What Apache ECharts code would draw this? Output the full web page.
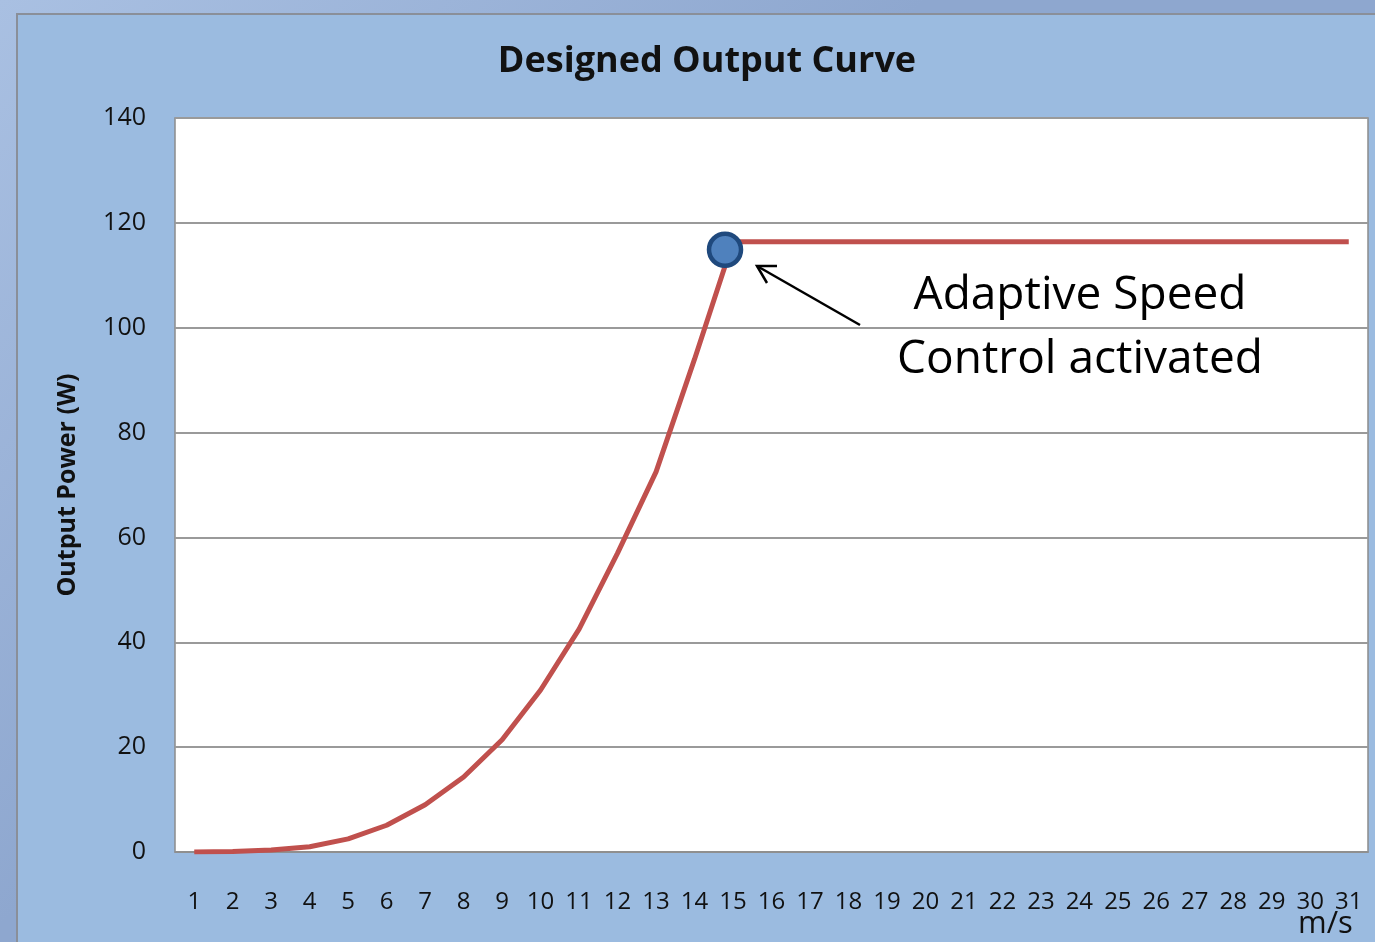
<!DOCTYPE html>
<html>
<head>
<meta charset="utf-8">
<script src="https://cdn.jsdelivr.net/npm/echarts@6/dist/echarts.min.js"></script>
<style>
html, body { margin: 0; padding: 0; }
body { width: 1375px; height: 942px; background: linear-gradient(135deg, #a9c0e2 0%, #8ea7cf 40%, #8ea7cf 100%); position: relative; overflow: hidden; }
#frame { position: absolute; left: 16px; top: 13px; width: 1400px; height: 1000px; background: #9bbbe0; border-left: 2px solid #8a8f99; border-top: 2px solid #8a8f99; }
#main { position: absolute; left: 0; top: 0; width: 1375px; height: 942px; }
</style>
</head>
<body>
<div id="frame"></div>
<div id="main"></div>
<script>
var speeds = [];
for (var s = 1; s <= 31; s++) speeds.push(String(s));
var power = [0, 0.1, 0.4, 1.0, 2.5, 5.1, 9.0, 14.3, 21.4, 30.9, 42.5, 57.0, 72.5, 94.0, 116.4,
	116.4, 116.4, 116.4, 116.4, 116.4, 116.4, 116.4, 116.4, 116.4, 116.4, 116.4, 116.4, 116.4, 116.4, 116.4, 116.4];
var yTicks = [0, 20, 40, 60, 80, 100, 120, 140];
var markSpeed = '15';
var markPower = 116.4;

var font = '"Open Sans", "Noto Sans", sans-serif';
var myChart = echarts.init(document.getElementById('main'));
var option = {
	animation: false,
	backgroundColor: 'transparent',
	title: {
		text: 'Designed Output Curve',
		left: 702,
		top: 39,
		textAlign: 'center',
		textStyle: { fontFamily: font, fontSize: 36, fontWeight: 'bold', color: '#111' }
	},
	grid: {
		left: 175, top: 118, right: 7, bottom: 90,
		show: true, backgroundColor: '#fff', borderColor: '#8c8c8c', borderWidth: 1.5
	},
	xAxis: {
		type: 'category',
		data: speeds,
		boundaryGap: true,
		axisLine: { lineStyle: { color: '#8c8c8c', width: 1.5 } },
		axisTick: { show: false },
		axisLabel: { fontFamily: font, fontSize: 24, color: '#111', margin: 38, interval: 0 }
	},
	yAxis: {
		type: 'value',
		min: yTicks[0],
		max: yTicks[yTicks.length - 1],
		interval: 20,
		name: 'Output Power (W)',
		nameLocation: 'middle',
		nameGap: 95,
		nameTextStyle: { fontFamily: font, fontSize: 25, fontWeight: 'bold', color: '#111' },
		axisLine: { show: false },
		axisTick: { show: false },
		axisLabel: { fontFamily: font, fontSize: 25, color: '#111', margin: 29 },
		splitLine: { lineStyle: { color: '#9a9a9a', width: 2 } }
	},
	graphic: [
		{
			type: 'text', x: 1080, y: 264,
			style: {
				text: 'Adaptive Speed\nControl activated',
				font: '46px ' + font, fill: '#000', align: 'center', verticalAlign: 'top', lineHeight: 64
			},
			z: 10
		},
		{
			type: 'line', shape: { x1: 860, y1: 325, x2: 757, y2: 266 },
			style: { stroke: '#000', lineWidth: 2.5 }, z: 10
		},
		{
			type: 'polyline', shape: { points: [[777, 266], [757, 266], [767, 283]] },
			style: { stroke: '#000', lineWidth: 2.5, fill: null }, z: 10
		},
		{
			type: 'text', x: 1298, y: 909,
			style: { text: 'm/s', font: '31px ' + font, fill: '#111' }
		}
	],
	series: [{
		name: 'Output Power',
		type: 'line',
		data: power,
		symbol: 'none',
		lineStyle: { color: '#c0504d', width: 5 },
		markPoint: {
			symbol: 'circle',
			symbolSize: 32,
			symbolOffset: [-8, 8],
			label: { show: false },
			itemStyle: { color: '#4f81bd', borderColor: '#1f497d', borderWidth: 4.5 },
			data: [{ coord: [markSpeed, markPower] }]
		}
	}]
};
myChart.setOption(option);
</script>
</body>
</html>
